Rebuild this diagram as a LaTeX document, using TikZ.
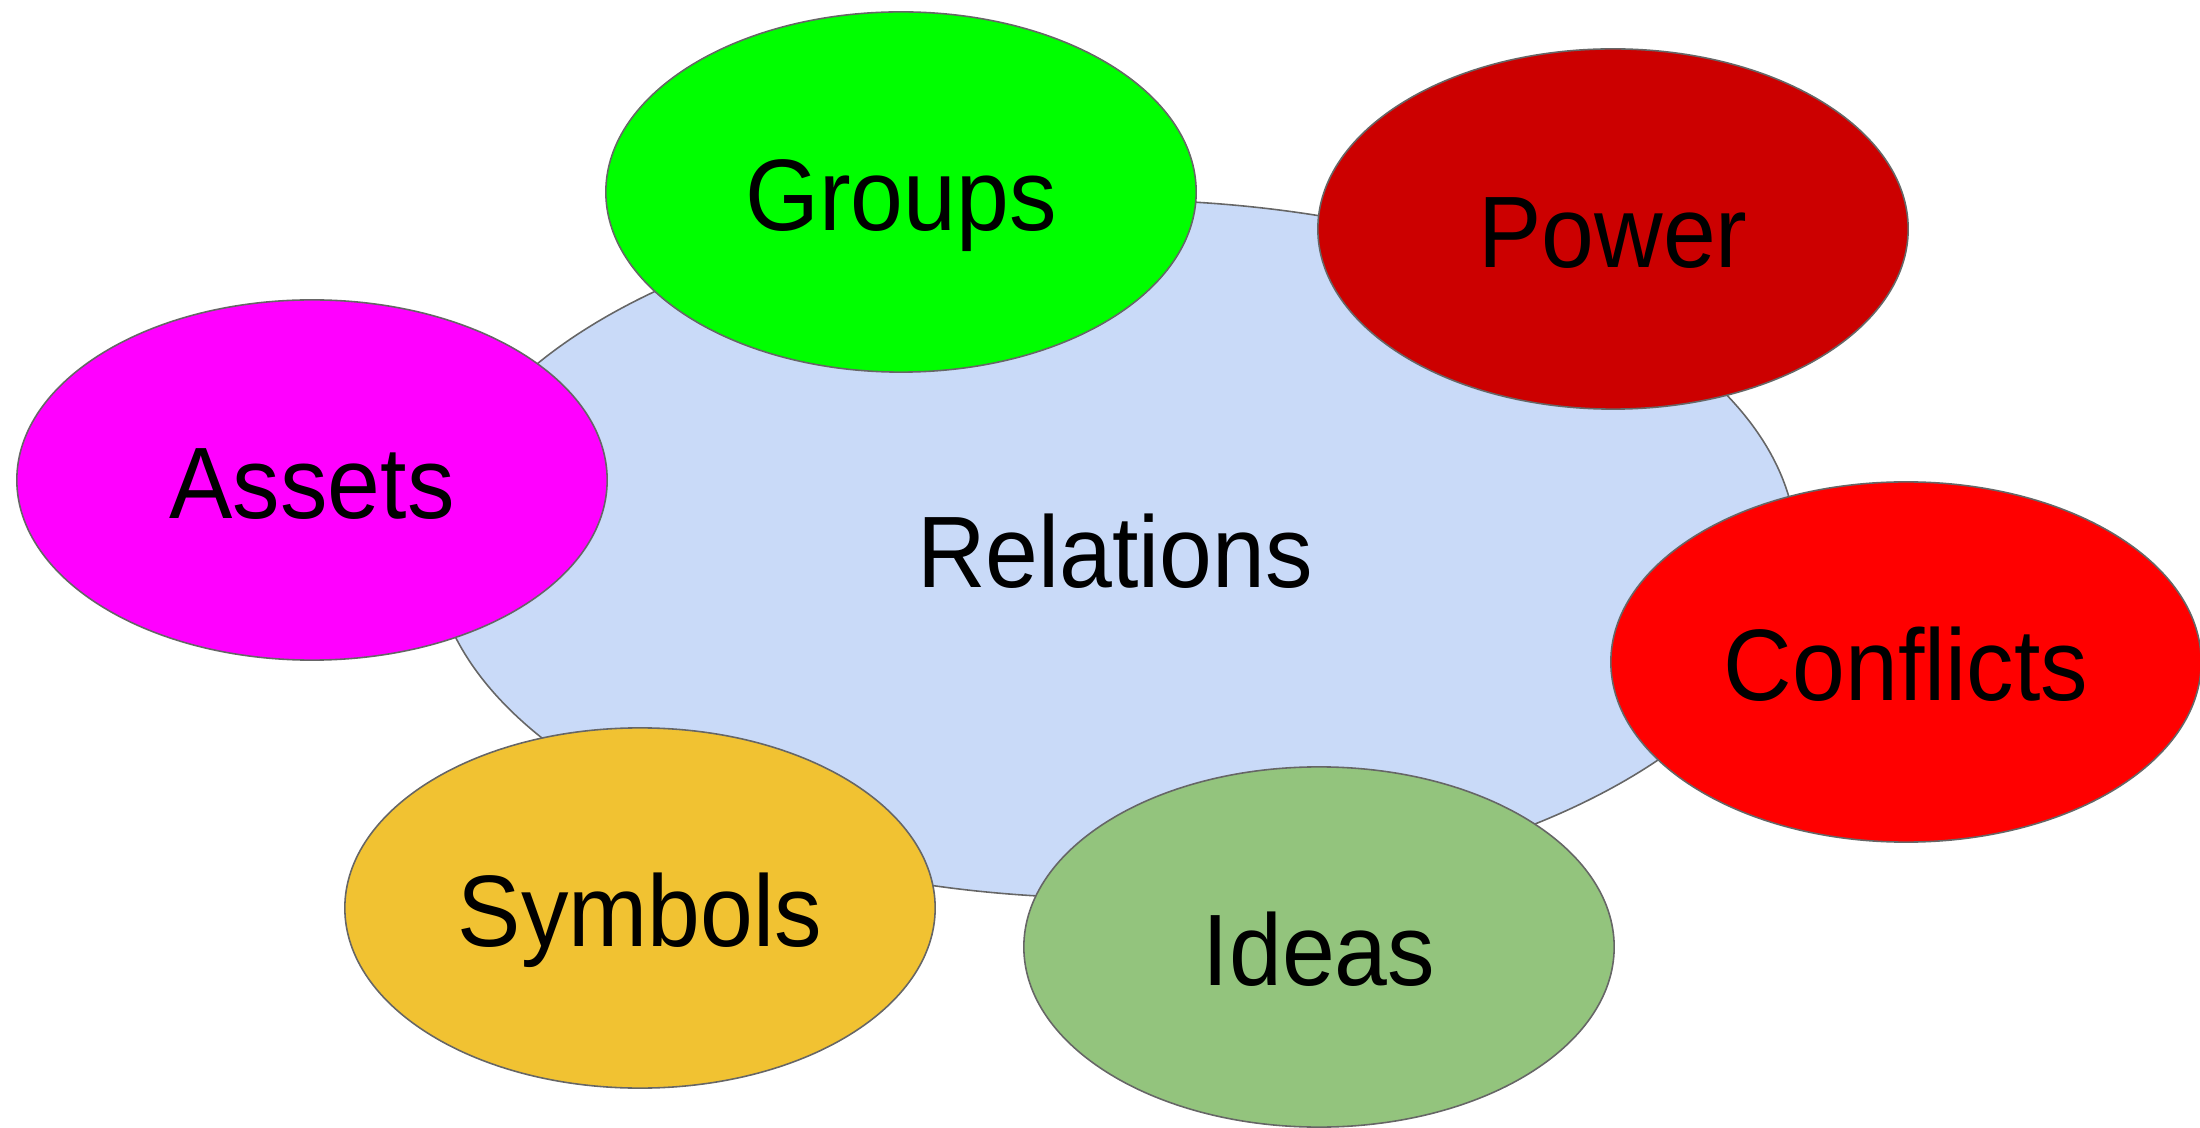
\documentclass[tikz,border=0pt]{standalone}
\usepackage{fontspec}
\setmainfont{Liberation Sans}
\usetikzlibrary{shapes.geometric}

\definecolor{relblue}{HTML}{C9DAF8}
\definecolor{grpgreen}{HTML}{00FF00}
\definecolor{powred}{HTML}{CC0000}
\definecolor{astpink}{HTML}{FF00FF}
\definecolor{cnfred}{HTML}{FF0000}
\definecolor{symyellow}{HTML}{F1C232}
\definecolor{idegreen}{HTML}{93C47D}
\definecolor{rim}{HTML}{666666}

% labels are set a little taller than the font
\newcommand{\blobtext}[1]{\scalebox{1}[1.07]{#1}}

\begin{document}
\begin{tikzpicture}[x=0.01cm,y=-0.01cm,
    blob/.style={ellipse,draw=rim,line width=0.45pt,inner sep=0pt,
      minimum width=5.9cm,minimum height=3.6cm,
      font=\fontsize{27}{32}\selectfont,text height=21.8pt,text depth=0pt}]
    \useasboundingbox (0,0) rectangle (2200,1128);
    \node[blob,fill=relblue,minimum width=13.62cm,minimum height=6.98cm] (rel) at (1115,549) {\blobtext{Relations}};
    \node[blob,fill=grpgreen] (grp) at (901,192) {\blobtext{Groups}};
    \node[blob,fill=powred] (pow) at (1613,229) {\blobtext{Power}};
    \node[blob,fill=astpink] (ast) at (312,480) {\blobtext{Assets}};
    \node[blob,fill=cnfred] (cnf) at (1906,662) {\blobtext{Conflicts}};
    \node[blob,fill=symyellow] (sym) at (640,908) {\blobtext{Symbols}};
    \node[blob,fill=idegreen] (ide) at (1319,947) {\blobtext{Ideas}};
  \end{tikzpicture}
\end{document}
